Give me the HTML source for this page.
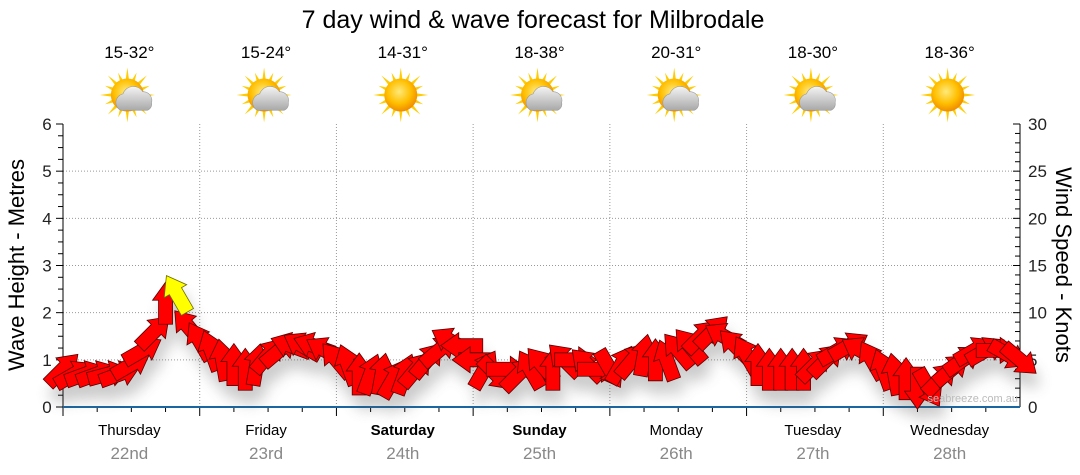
<!DOCTYPE html>
<html><head><meta charset="utf-8"><style>
body{margin:0;background:#fff;}
svg{display:block;font-family:"Liberation Sans",sans-serif;}
</style></head><body>
<svg id="c" width="1080" height="475" viewBox="0 0 1080 475">
<defs>
<filter id="sh" x="-50%" y="-50%" width="200%" height="200%"><feGaussianBlur stdDeviation="7"/></filter>
<radialGradient id="sun" cx="45%" cy="40%" r="60%"><stop offset="0" stop-color="#ffe97a"/><stop offset="0.6" stop-color="#ffbf00"/><stop offset="1" stop-color="#f08c00"/></radialGradient>
<linearGradient id="cl" x1="0" y1="0" x2="0" y2="1"><stop offset="0" stop-color="#f4f4f4"/><stop offset="1" stop-color="#a8a8a8"/></linearGradient>
</defs>
<text x="533" y="28" font-size="25" text-anchor="middle" fill="#000">7 day wind &amp; wave forecast for Milbrodale</text>
<g id="grid"></g><g id="axes"></g><g id="icons"></g><g id="shadow" filter="url(#sh)" opacity="0.3"></g><g id="arrows"></g>
<text x="1018" y="402" font-size="11" text-anchor="end" fill="#bbb">seabreeze.com.au</text>
<text transform="translate(24,265) rotate(-90)" font-size="22" text-anchor="middle">Wave Height - Metres</text>
<text transform="translate(1056,265) rotate(90)" font-size="22" text-anchor="middle">Wind Speed - Knots</text>
</svg>
<script>
const days=["Thursday","Friday","Saturday","Sunday","Monday","Tuesday","Wednesday"];
const dates=["22nd","23rd","24th","25th","26th","27th","28th"];
const temps=["15-32°","15-24°","14-31°","18-38°","20-31°","18-30°","18-36°"];
const icons=["cloud","cloud","sun","cloud","cloud","cloud","sun"];
const waveTicks=[0,1,2,3,4,5,6];
const windTicks=[0,5,10,15,20,25,30];
const hours=[0,2,4,6,8,10,12,14,16,18,20,22,24,26,28,30,32,34,36,38,40,42,44,46,48,50,52,54,56,58,60,62,64,66,68,70,72,74,76,78,80,82,84,86,88,90,92,94,96,98,100,102,104,106,108,110,112,114,116,118,120,122,124,126,128,130,132,134,136,138,140,142,144,146,148,150,152,154,156,158,160,162,164,166,168];
const windSpeed=[4,3.5,3.5,3.5,3.5,3.5,4.5,6,8,11,12,8.5,7,6,5,4.5,4,4.5,5.5,6,6.5,6.5,6.5,6,5,4.5,3.5,3.5,3.5,3,3.5,4,5,6,7,6.5,5,4,3.5,4,3.5,4,4.5,4,5,5,4.5,4,4,4.5,5,5.5,5,5,6,6.5,7.5,8,7.5,6.5,5.5,4.5,4,4,4,4,4.5,5,6,6.5,6,5,4,3.5,3,2,2,3,4,5,6,6,6,5.5,5,4.5];
const windDir=[45,60,70,70,75,70,60,60,45,0,-30,-40,-30,-20,-10,0,0,10,40,50,-70,-60,-70,-60,-40,-20,0,20,10,30,20,40,40,50,-60,-90,-90,30,135,90,45,-30,-40,0,-45,90,-45,90,150,30,40,10,0,-20,-40,-40,45,45,-60,-45,-30,0,0,0,0,0,45,45,60,60,-60,-30,-20,-10,0,180,150,45,50,55,60,60,90,120,130,135];
const waveHeight=new Array(85).fill(0);
const NS="http://www.w3.org/2000/svg";
const X0=63,X1=1020,Y0=407,Y1=124;
const xs=h=>X0+(X1-X0)*h/168;
const yw=m=>Y0-(Y0-Y1)*m/6;
const yk=k=>Y0-(Y0-Y1)*k/30;
function mk(tag,attrs,parent){const e=document.createElementNS(NS,tag);for(const k in attrs)e.setAttribute(k,attrs[k]);parent.appendChild(e);return e;}
const grid=document.getElementById('grid'),axes=document.getElementById('axes'),ic=document.getElementById('icons');
waveTicks.forEach(t=>{if(t>0&&t<6){const l=mk('line',{x1:X0,x2:X1,y1:yw(t),y2:yw(t),stroke:'#999','stroke-dasharray':'1,2'},grid);

}
const tx=mk('text',{x:47,y:yw(t)+6,'font-size':17,'text-anchor':'middle',fill:'#222'},axes);tx.textContent=t;

});
windTicks.forEach(t=>{const tx=mk('text',{x:1028,y:yk(t)+6,'font-size':17,fill:'#222'},axes);tx.textContent=t;

});
for(let i=0;i<=24;i++){const y=yw(i/4);mk('line',{x1:X0-(i%4?5:7),x2:X0,y1:y,y2:y,stroke:'#000'},axes);}
for(let i=0;i<=30;i++){const y=yk(i);mk('line',{x1:X1-(i%5?5:7),x2:X1,y1:y,y2:y,stroke:'#000'},axes);}
mk('line',{x1:X0,x2:X0,y1:Y1,y2:Y0,stroke:'#000'},axes);
mk('line',{x1:X1,x2:X1,y1:Y1,y2:Y0,stroke:'#000'},axes);
for(let d=0;d<7;d++){
 if(d>0){const l=mk('line',{x1:xs(d*24),x2:xs(d*24),y1:Y1,y2:Y0,stroke:'#999','stroke-dasharray':'1,2'},grid);
 
 }
 for(let q=0;q<4;q++){const x=xs(d*24+q*6);mk('line',{x1:x,x2:x,y1:Y0,y2:Y0+(q?5:9),stroke:'#000'},axes);}
 const cx=xs(d*24+12);
 const dn=mk('text',{x:cx-2,y:435,'font-size':15,'text-anchor':'middle','font-weight':(d==2||d==3)?'bold':'normal'},axes);dn.textContent=days[d];
 
 
 const dt=mk('text',{x:cx-2,y:459,'font-size':17,'text-anchor':'middle',fill:'#888'},axes);dt.textContent=dates[d];
 
 
 const tp=mk('text',{x:cx-2,y:58,'font-size':17,'text-anchor':'middle'},ic);tp.textContent=temps[d];
 
 
 const g=mk('g',{transform:`translate(${cx-4},95) scale(1.1)`},ic);
 
 
 for(let r=0;r<16;r++){const a=r*Math.PI/8,L=r%2?22:25;mk('polygon',{points:`${Math.cos(a-0.15)*12},${Math.sin(a-0.15)*12} ${Math.cos(a)*L},${Math.sin(a)*L} ${Math.cos(a+0.15)*12},${Math.sin(a+0.15)*12}`,fill:'#ffcc00'},g);}
 mk('circle',{cx:0,cy:0,r:15,fill:'url(#sun)'},g);
 if(icons[d]=='cloud'){mk('path',{d:'M-6,14 a8,8 0 0 1 2,-15 a10,10 0 0 1 18,-2 a8,8 0 0 1 8,10 a6,6 0 0 1 -4,7 z',fill:'url(#cl)',stroke:'#999','stroke-width':0.5},g);}
}
mk('line',{x1:X0,x2:X1,y1:Y0,y2:Y0,stroke:'#1a5a8a','stroke-width':2},axes);
let wp='';hours.forEach((h,i)=>{wp+=(i?'L':'M')+xs(h)+','+yw(waveHeight[i]);});
const wl=mk('path',{d:wp,fill:'none',stroke:'#1a6aa8','stroke-width':1.5},axes);


const ARW='M-7,21 L-7,-3 L-13,-3 L0,-21 L13,-3 L7,-3 L7,21 Z';
const maxI=windSpeed.indexOf(Math.max(...windSpeed));
const sh=document.getElementById('shadow'),ar=document.getElementById('arrows');
hours.forEach((h,i)=>{
 const x=xs(h),y=yk(windSpeed[i]);
 mk('path',{d:ARW,transform:`translate(${x+4},${y+14}) rotate(${windDir[i]})`,fill:'#555'},sh);
});
hours.forEach((h,i)=>{
 if(i===maxI)return;
 const x=xs(h),y=yk(windSpeed[i]);
 const p=mk('path',{d:ARW,transform:`translate(${x},${y}) rotate(${windDir[i]})`,fill:'#ff0000',stroke:'#5a0000','stroke-width':0.8},ar);
 
 
});
{const x=xs(hours[maxI]),y=yk(windSpeed[maxI]);
 const p=mk('path',{d:ARW,transform:`translate(${x},${y}) rotate(${windDir[maxI]})`,fill:'#ffff00',stroke:'#6a6a00','stroke-width':0.8},ar);
 
 }
</script>
</body></html>
